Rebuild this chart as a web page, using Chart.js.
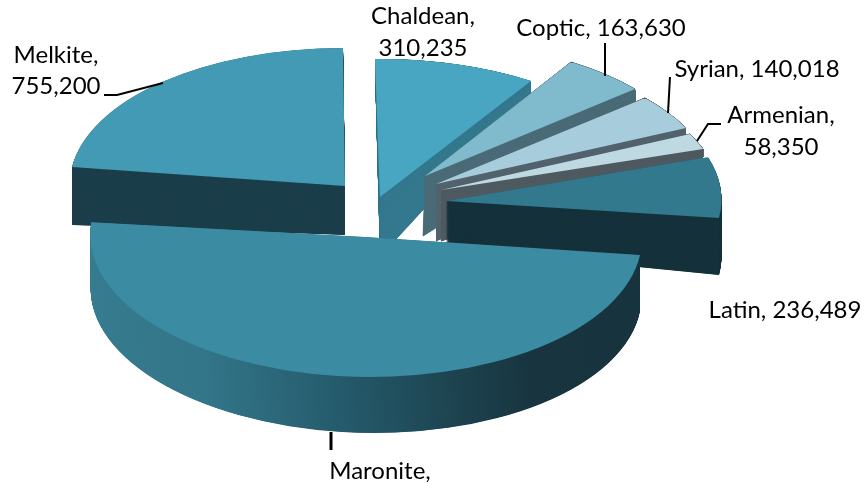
<!DOCTYPE html>
<html>
<head>
<meta charset="utf-8">
<style>html,body{margin:0;padding:0;background:#fff}canvas{display:block}</style>
<script src="https://cdn.jsdelivr.net/npm/chart.js@4"></script>
</head>
<body>
<canvas id="c" width="864" height="484"></canvas>
<script>
// Data (clockwise from the top). The Maronite value is cut off in the source; estimated from its slice.
const categories = ["Chaldean", "Coptic", "Syrian", "Armenian", "Latin", "Maronite", "Melkite"];
const members = [310235, 163630, 140018, 58350, 236489, 1640000, 755200];

// Styles
const faceColors = ["#48a6c2", "#80bacd", "#a7cddc", "#bfd9e3", "#32798d", "#3b8ba3", "#429ab4"];
const sideColors = ["#33788c", "#4b6b78", "#53636e", "#4f5a61", "#16323c", "gradient", "#1c3f4b"];
const sideEdge = [0, 0.8, 0.8, 0.8, 0, 0, 0];
const gradientStops = [[0, "#367b8f"], [0.2, "#337589"], [0.45, "#245a6b"], [0.68, "#1c404c"], [0.8, "#17343f"], [1, "#16333e"]];
const paintOrder = [0, 1, 2, 3, 4, 6, 5];

// Each wedge's exploded, perspective view: where its centre and rim land, for top and bottom faces.
// "mid" marks a rim anchor half way along the arc instead of at its end.
const views = [
  {top: {c: [380, 197], a: [375, 59], b: [531, 81]},  bot: {c: [380, 257], a: [375, 68], b: [531, 93]}},
  {top: {c: [425, 176], a: [571, 62], b: [635, 89]},  bot: {c: [423, 236], a: [571, 75], b: [636, 102]}},
  {top: {c: [436, 184], a: [645, 98], b: [686, 128]}, bot: {c: [436, 241], a: [645, 105], b: [685, 135]}},
  {top: {c: [441, 190], a: [690, 134], b: [703, 149]}, bot: {c: [441, 241], a: [690, 142], b: [703, 157]}},
  {top: {c: [446, 201], a: [708, 157], b: [719, 218]}, bot: {c: [446, 248], a: [708, 214], b: [719, 275]}},
  {top: {c: [366, 237], a: [640, 255], b: [338, 376], mid: true}, bot: {c: [366, 293], a: [640, 311], b: [342, 432], mid: true}},
  {top: {c: [345, 186], a: [72, 167], b: [343, 48]},  bot: {c: [345, 235], a: [72, 225], b: [343, 97]}}
];

// Label layout
const labelLines = [
  i => [categories[i] + ",", fmt(members[i])],
  i => [categories[i] + ", " + fmt(members[i])],
  i => [categories[i] + ", " + fmt(members[i])],
  i => [categories[i] + ",", fmt(members[i])],
  i => [categories[i] + ", " + fmt(members[i])],
  i => [categories[i] + ","],
  i => [categories[i] + ",", fmt(members[i])]
];
const labelAnchors = [[423, 24], [601, 36], [757, 77], [781, 123], [785, 318], [380, 479], [56, 63]];
const lineStep = [32, 0, 0, 32, 0, 0, 31];
const leaders = [
  {w: 2, pts: [[104, 95], [117, 95], [163, 83]]},
  {w: 2, pts: [[605, 43], [605, 76]]},
  {w: 2, pts: [[670, 77], [668, 113]]},
  {w: 2, pts: [[721, 124], [708, 124], [697, 141]]},
  {w: 3, pts: [[331, 432], [331, 450]]}
];
function fmt(v) { return v.toLocaleString("en-US"); }

function matrixFor(arc, v) {
  const a0 = arc.startAngle;
  const a1 = v.mid ? (arc.startAngle + arc.endAngle) / 2 : arc.endAngle;
  const p = Math.cos(a0), q = Math.cos(a1), r = Math.sin(a0), s = Math.sin(a1);
  const det = p * s - q * r;
  const ux = v.a[0] - v.c[0], uy = v.a[1] - v.c[1];
  const wx = v.b[0] - v.c[0], wy = v.b[1] - v.c[1];
  const m11 = (ux * s - wx * r) / det, m12 = (wx * p - ux * q) / det;
  const m21 = (uy * s - wy * r) / det, m22 = (wy * p - uy * q) / det;
  const R = arc.outerRadius;
  return [m11 / R, m21 / R, m12 / R, m22 / R,
    v.c[0] - (m11 * arc.x + m12 * arc.y) / R,
    v.c[1] - (m21 * arc.x + m22 * arc.y) / R];
}
function paint(ctx, arc, m, fill, edge) {
  const saved = arc.options;
  arc.options = Object.assign({}, saved, {backgroundColor: fill, borderColor: fill, borderWidth: edge || 0});
  ctx.save();
  ctx.transform(m[0], m[1], m[2], m[3], m[4], m[5]);
  arc.draw(ctx);
  ctx.restore();
  arc.options = saved;
}
function localX(m, sx, sy) {
  const det = m[0] * m[3] - m[1] * m[2];
  const dx = sx - m[4], dy = sy - m[5];
  return [(m[3] * dx - m[2] * dy) / det, (m[0] * dy - m[1] * dx) / det];
}

const pie3d = {
  id: "pie3d",
  beforeDatasetsDraw(chart) {
    const ctx = chart.ctx;
    const arcs = chart.getDatasetMeta(0).data;
    const layers = 160;
    paintOrder.forEach(i => {
      const arc = arcs[i];
      const mt = matrixFor(arc, views[i].top), mb = matrixFor(arc, views[i].bot);
      for (let k = 0; k < layers; k++) {
        const t = k / layers;
        const m = mb.map((x, j) => x + (mt[j] - x) * t);
        let fill = sideColors[i];
        if (fill === "gradient") {
          const y = 300;
          const p0 = localX(m, 92, y), p1 = localX(m, 641, y);
          fill = ctx.createLinearGradient(p0[0], p0[1], p1[0], p1[1]);
          gradientStops.forEach(s => fill.addColorStop(s[0], s[1]));
        }
        paint(ctx, arc, m, fill, sideEdge[i]);
      }
      paint(ctx, arc, mt, faceColors[i], 0);
    });
    return false;
  },
  afterDraw(chart) {
    const ctx = chart.ctx;
    ctx.save();
    ctx.strokeStyle = "#000";
    ctx.lineJoin = "miter";
    leaders.forEach(l => {
      ctx.lineWidth = l.w;
      ctx.beginPath();
      l.pts.forEach((p, j) => j ? ctx.lineTo(p[0], p[1]) : ctx.moveTo(p[0], p[1]));
      ctx.stroke();
    });
    ctx.fillStyle = "#000";
    ctx.font = "24px Lato";
    ctx.textAlign = "center";
    ctx.textBaseline = "alphabetic";
    categories.forEach((_, i) => {
      labelLines[i](i).forEach((t, j) => {
        ctx.fillText(t, labelAnchors[i][0], labelAnchors[i][1] + j * lineStep[i]);
      });
    });
    ctx.restore();
  }
};

new Chart(document.getElementById("c"), {
  type: "pie",
  data: {labels: categories, datasets: [{data: members, backgroundColor: faceColors, borderWidth: 0}]},
  options: {
    responsive: false,
    animation: false,
    plugins: {legend: {display: false}, tooltip: {enabled: false}, title: {display: false}}
  },
  plugins: [pie3d]
});
</script>
</body>
</html>
